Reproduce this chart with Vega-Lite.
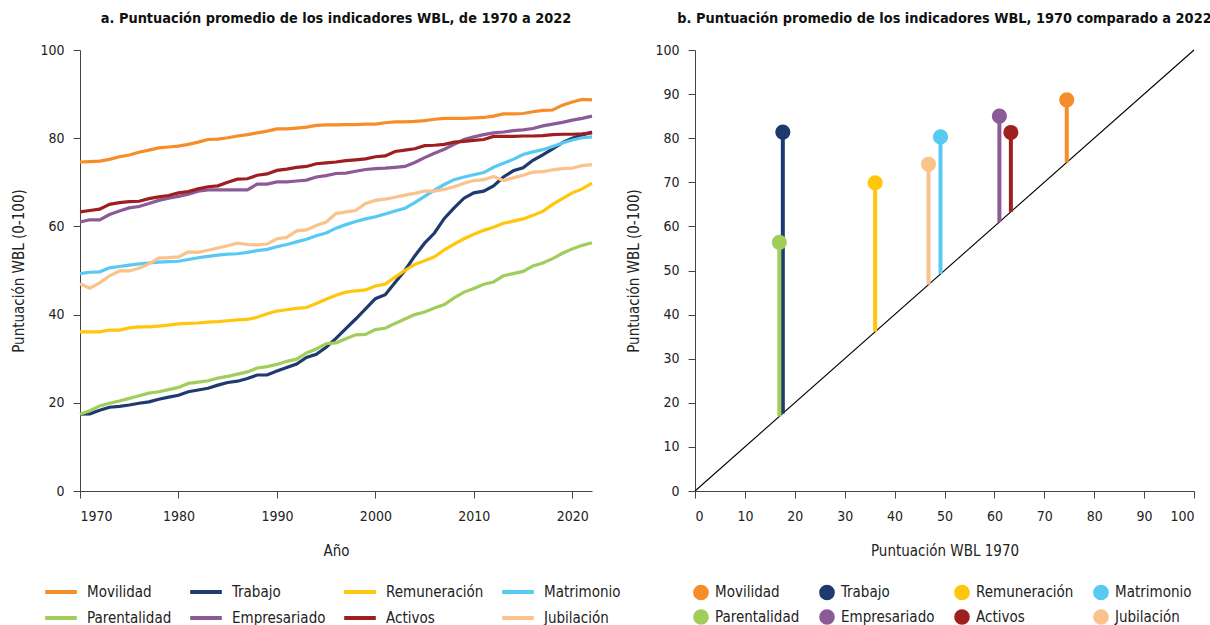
{
  "$schema": "https://vega.github.io/schema/vega-lite/v6.json",
  "background": "white",
  "padding": {"left": 11, "top": 10, "right": 5, "bottom": 0},
  "spacing": 5,
  "config": {
    "font": "DejaVu Sans Condensed, Liberation Sans",
    "view": {"stroke": null},
    "title": {"fontSize": 14.4, "fontWeight": "bold", "color": "#111", "anchor": "middle", "offset": 17},
    "axis": {"grid": false, "labelFontSize": 14, "titleFontSize": 15, "titleFontWeight": "normal", "labelColor": "#222", "titleColor": "#222", "domainColor": "#444", "tickColor": "#444", "tickSize": 7, "labelPadding": 9},
    "axisX": {"labelPadding": 11, "titlePadding": 20},
    "axisY": {"titlePadding": 13},
    "legend": {"labelFontSize": 15, "labelColor": "#222"}
  },
  "resolve": {"scale": {"color": "independent"}, "legend": {"color": "independent"}},
  "datasets": {
    "serie": [
      {"a":1970,"Movilidad":74.6,"Trabajo":17.4,"Remuneración":36.1,"Matrimonio":49.3,"Parentalidad":17.4,"Empresariado":61.0,"Activos":63.3,"Jubilación":47.0},
      {"a":1971,"Movilidad":74.7,"Trabajo":17.5,"Remuneración":36.1,"Matrimonio":49.6,"Parentalidad":18.2,"Empresariado":61.5,"Activos":63.6,"Jubilación":46.0},
      {"a":1972,"Movilidad":74.8,"Trabajo":18.3,"Remuneración":36.1,"Matrimonio":49.7,"Parentalidad":19.3,"Empresariado":61.5,"Activos":63.9,"Jubilación":47.2},
      {"a":1973,"Movilidad":75.2,"Trabajo":19.0,"Remuneración":36.5,"Matrimonio":50.6,"Parentalidad":19.9,"Empresariado":62.7,"Activos":65.0,"Jubilación":48.8},
      {"a":1974,"Movilidad":75.8,"Trabajo":19.2,"Remuneración":36.5,"Matrimonio":50.9,"Parentalidad":20.4,"Empresariado":63.5,"Activos":65.4,"Jubilación":49.9},
      {"a":1975,"Movilidad":76.2,"Trabajo":19.5,"Remuneración":37.0,"Matrimonio":51.2,"Parentalidad":21.0,"Empresariado":64.2,"Activos":65.6,"Jubilación":49.9},
      {"a":1976,"Movilidad":76.8,"Trabajo":19.9,"Remuneración":37.2,"Matrimonio":51.5,"Parentalidad":21.6,"Empresariado":64.5,"Activos":65.7,"Jubilación":50.5},
      {"a":1977,"Movilidad":77.3,"Trabajo":20.2,"Remuneración":37.2,"Matrimonio":51.7,"Parentalidad":22.2,"Empresariado":65.2,"Activos":66.3,"Jubilación":51.5},
      {"a":1978,"Movilidad":77.8,"Trabajo":20.8,"Remuneración":37.4,"Matrimonio":51.9,"Parentalidad":22.5,"Empresariado":65.9,"Activos":66.7,"Jubilación":52.8},
      {"a":1979,"Movilidad":78.0,"Trabajo":21.3,"Remuneración":37.6,"Matrimonio":52.0,"Parentalidad":23.0,"Empresariado":66.4,"Activos":67.0,"Jubilación":52.9},
      {"a":1980,"Movilidad":78.2,"Trabajo":21.7,"Remuneración":37.9,"Matrimonio":52.1,"Parentalidad":23.5,"Empresariado":66.8,"Activos":67.6,"Jubilación":53.1},
      {"a":1981,"Movilidad":78.6,"Trabajo":22.5,"Remuneración":38.0,"Matrimonio":52.5,"Parentalidad":24.4,"Empresariado":67.3,"Activos":67.9,"Jubilación":54.2},
      {"a":1982,"Movilidad":79.1,"Trabajo":22.9,"Remuneración":38.1,"Matrimonio":52.9,"Parentalidad":24.7,"Empresariado":68.0,"Activos":68.5,"Jubilación":54.1},
      {"a":1983,"Movilidad":79.7,"Trabajo":23.3,"Remuneración":38.3,"Matrimonio":53.2,"Parentalidad":25.0,"Empresariado":68.3,"Activos":69.0,"Jubilación":54.6},
      {"a":1984,"Movilidad":79.8,"Trabajo":24.0,"Remuneración":38.4,"Matrimonio":53.5,"Parentalidad":25.6,"Empresariado":68.3,"Activos":69.2,"Jubilación":55.1},
      {"a":1985,"Movilidad":80.1,"Trabajo":24.6,"Remuneración":38.6,"Matrimonio":53.7,"Parentalidad":26.0,"Empresariado":68.3,"Activos":70.0,"Jubilación":55.6},
      {"a":1986,"Movilidad":80.5,"Trabajo":24.9,"Remuneración":38.8,"Matrimonio":53.8,"Parentalidad":26.5,"Empresariado":68.3,"Activos":70.7,"Jubilación":56.2},
      {"a":1987,"Movilidad":80.8,"Trabajo":25.5,"Remuneración":38.9,"Matrimonio":54.1,"Parentalidad":27.0,"Empresariado":68.3,"Activos":70.8,"Jubilación":55.9},
      {"a":1988,"Movilidad":81.2,"Trabajo":26.3,"Remuneración":39.4,"Matrimonio":54.5,"Parentalidad":27.9,"Empresariado":69.6,"Activos":71.6,"Jubilación":55.8},
      {"a":1989,"Movilidad":81.6,"Trabajo":26.3,"Remuneración":40.2,"Matrimonio":54.8,"Parentalidad":28.2,"Empresariado":69.6,"Activos":71.9,"Jubilación":56.0},
      {"a":1990,"Movilidad":82.1,"Trabajo":27.2,"Remuneración":40.8,"Matrimonio":55.4,"Parentalidad":28.7,"Empresariado":70.1,"Activos":72.7,"Jubilación":57.2},
      {"a":1991,"Movilidad":82.1,"Trabajo":28.0,"Remuneración":41.1,"Matrimonio":55.9,"Parentalidad":29.4,"Empresariado":70.1,"Activos":73.0,"Jubilación":57.5},
      {"a":1992,"Movilidad":82.3,"Trabajo":28.8,"Remuneración":41.4,"Matrimonio":56.5,"Parentalidad":29.9,"Empresariado":70.3,"Activos":73.4,"Jubilación":59.0},
      {"a":1993,"Movilidad":82.5,"Trabajo":30.3,"Remuneración":41.6,"Matrimonio":57.1,"Parentalidad":31.3,"Empresariado":70.5,"Activos":73.6,"Jubilación":59.2},
      {"a":1994,"Movilidad":82.9,"Trabajo":31.0,"Remuneración":42.5,"Matrimonio":57.9,"Parentalidad":32.2,"Empresariado":71.2,"Activos":74.2,"Jubilación":60.2},
      {"a":1995,"Movilidad":83.0,"Trabajo":32.6,"Remuneración":43.5,"Matrimonio":58.5,"Parentalidad":33.4,"Empresariado":71.5,"Activos":74.4,"Jubilación":61.0},
      {"a":1996,"Movilidad":83.0,"Trabajo":34.6,"Remuneración":44.4,"Matrimonio":59.6,"Parentalidad":33.6,"Empresariado":72.0,"Activos":74.6,"Jubilación":62.9},
      {"a":1997,"Movilidad":83.1,"Trabajo":36.8,"Remuneración":45.1,"Matrimonio":60.4,"Parentalidad":34.5,"Empresariado":72.1,"Activos":74.9,"Jubilación":63.3},
      {"a":1998,"Movilidad":83.1,"Trabajo":39.0,"Remuneración":45.4,"Matrimonio":61.1,"Parentalidad":35.4,"Empresariado":72.5,"Activos":75.1,"Jubilación":63.6},
      {"a":1999,"Movilidad":83.2,"Trabajo":41.3,"Remuneración":45.6,"Matrimonio":61.7,"Parentalidad":35.5,"Empresariado":72.9,"Activos":75.3,"Jubilación":65.2},
      {"a":2000,"Movilidad":83.2,"Trabajo":43.6,"Remuneración":46.5,"Matrimonio":62.2,"Parentalidad":36.6,"Empresariado":73.1,"Activos":75.8,"Jubilación":65.9},
      {"a":2001,"Movilidad":83.5,"Trabajo":44.5,"Remuneración":46.9,"Matrimonio":62.8,"Parentalidad":36.9,"Empresariado":73.2,"Activos":76.0,"Jubilación":66.2},
      {"a":2002,"Movilidad":83.7,"Trabajo":47.3,"Remuneración":48.5,"Matrimonio":63.5,"Parentalidad":38.0,"Empresariado":73.4,"Activos":77.0,"Jubilación":66.6},
      {"a":2003,"Movilidad":83.7,"Trabajo":50.0,"Remuneración":50.0,"Matrimonio":64.1,"Parentalidad":39.0,"Empresariado":73.6,"Activos":77.3,"Jubilación":67.1},
      {"a":2004,"Movilidad":83.8,"Trabajo":53.3,"Remuneración":51.4,"Matrimonio":65.4,"Parentalidad":40.0,"Empresariado":74.5,"Activos":77.6,"Jubilación":67.5},
      {"a":2005,"Movilidad":84.0,"Trabajo":56.2,"Remuneración":52.2,"Matrimonio":66.8,"Parentalidad":40.6,"Empresariado":75.6,"Activos":78.3,"Jubilación":68.0},
      {"a":2006,"Movilidad":84.3,"Trabajo":58.5,"Remuneración":53.1,"Matrimonio":68.2,"Parentalidad":41.5,"Empresariado":76.6,"Activos":78.4,"Jubilación":68.0},
      {"a":2007,"Movilidad":84.5,"Trabajo":61.8,"Remuneración":54.7,"Matrimonio":69.5,"Parentalidad":42.3,"Empresariado":77.5,"Activos":78.6,"Jubilación":68.4},
      {"a":2008,"Movilidad":84.5,"Trabajo":64.2,"Remuneración":56.0,"Matrimonio":70.6,"Parentalidad":43.8,"Empresariado":78.6,"Activos":79.1,"Jubilación":69.0},
      {"a":2009,"Movilidad":84.5,"Trabajo":66.4,"Remuneración":57.2,"Matrimonio":71.2,"Parentalidad":45.1,"Empresariado":79.7,"Activos":79.3,"Jubilación":69.8},
      {"a":2010,"Movilidad":84.6,"Trabajo":67.6,"Remuneración":58.2,"Matrimonio":71.7,"Parentalidad":45.9,"Empresariado":80.3,"Activos":79.5,"Jubilación":70.4},
      {"a":2011,"Movilidad":84.7,"Trabajo":68.0,"Remuneración":59.1,"Matrimonio":72.2,"Parentalidad":46.9,"Empresariado":80.8,"Activos":79.7,"Jubilación":70.6},
      {"a":2012,"Movilidad":85.0,"Trabajo":69.2,"Remuneración":59.8,"Matrimonio":73.4,"Parentalidad":47.4,"Empresariado":81.2,"Activos":80.4,"Jubilación":71.3},
      {"a":2013,"Movilidad":85.5,"Trabajo":71.2,"Remuneración":60.7,"Matrimonio":74.3,"Parentalidad":48.8,"Empresariado":81.4,"Activos":80.4,"Jubilación":70.4},
      {"a":2014,"Movilidad":85.5,"Trabajo":72.6,"Remuneración":61.2,"Matrimonio":75.2,"Parentalidad":49.3,"Empresariado":81.7,"Activos":80.4,"Jubilación":71.0},
      {"a":2015,"Movilidad":85.6,"Trabajo":73.3,"Remuneración":61.7,"Matrimonio":76.3,"Parentalidad":49.8,"Empresariado":81.9,"Activos":80.5,"Jubilación":71.6},
      {"a":2016,"Movilidad":86.0,"Trabajo":75.0,"Remuneración":62.5,"Matrimonio":76.9,"Parentalidad":51.0,"Empresariado":82.2,"Activos":80.5,"Jubilación":72.3},
      {"a":2017,"Movilidad":86.3,"Trabajo":76.2,"Remuneración":63.4,"Matrimonio":77.4,"Parentalidad":51.7,"Empresariado":82.8,"Activos":80.6,"Jubilación":72.4},
      {"a":2018,"Movilidad":86.4,"Trabajo":77.6,"Remuneración":65.0,"Matrimonio":78.1,"Parentalidad":52.7,"Empresariado":83.2,"Activos":80.8,"Jubilación":72.8},
      {"a":2019,"Movilidad":87.5,"Trabajo":79.0,"Remuneración":66.3,"Matrimonio":78.9,"Parentalidad":53.9,"Empresariado":83.6,"Activos":80.9,"Jubilación":73.1},
      {"a":2020,"Movilidad":88.2,"Trabajo":80.0,"Remuneración":67.6,"Matrimonio":79.6,"Parentalidad":54.9,"Empresariado":84.1,"Activos":80.9,"Jubilación":73.2},
      {"a":2021,"Movilidad":88.8,"Trabajo":80.7,"Remuneración":68.5,"Matrimonio":80.1,"Parentalidad":55.7,"Empresariado":84.5,"Activos":81.0,"Jubilación":73.8},
      {"a":2022,"Movilidad":88.7,"Trabajo":81.4,"Remuneración":69.8,"Matrimonio":80.3,"Parentalidad":56.3,"Empresariado":85.0,"Activos":81.2,"Jubilación":74.0}
    ],
    "lol": [
      {"indicador":"Movilidad","v1970":74.5,"v2022":88.7},
      {"indicador":"Trabajo","v1970":17.6,"v2022":81.4},
      {"indicador":"Remuneración","v1970":36.1,"v2022":69.9},
      {"indicador":"Jubilación","v1970":46.8,"v2022":74.1},
      {"indicador":"Matrimonio","v1970":49.2,"v2022":80.3},
      {"indicador":"Parentalidad","v1970":16.9,"v2022":56.4},
      {"indicador":"Empresariado","v1970":61.0,"v2022":85.0},
      {"indicador":"Activos","v1970":63.3,"v2022":81.3}
    ],
    "diag": [{"x":0,"y":0,"x2":100,"y2":100}]
  },
  "hconcat": [
    {
      "width": 512,
      "height": 441,
      "title": "a. Puntuación promedio de los indicadores WBL, de 1970 a 2022",
      "data": {"name": "serie"},
      "transform": [{"fold": ["Movilidad","Trabajo","Remuneración","Matrimonio","Parentalidad","Empresariado","Activos","Jubilación"], "as": ["indicador","valor"]}],
      "mark": {"type": "line", "strokeWidth": 3.2},
      "encoding": {
        "x": {"field": "a", "type": "quantitative", "scale": {"domain": [1970, 2022], "nice": false, "zero": false}, "axis": {"values": [1970,1980,1990,2000,2010,2020], "format": "d", "title": "Año"}},
        "y": {"field": "valor", "type": "quantitative", "scale": {"domain": [0, 100], "nice": false}, "axis": {"values": [0,20,40,60,80,100], "title": "Puntuación WBL (0-100)"}},
        "color": {
          "field": "indicador", "type": "nominal",
          "scale": {"domain": ["Movilidad","Trabajo","Remuneración","Matrimonio","Parentalidad","Empresariado","Activos","Jubilación"], "range": ["#F78D28","#1F3A6E","#FFC60B","#57C9F3","#A1CD5A","#8C5A96","#9E1F20","#FAC28D"]},
          "legend": {"title": null, "orient": "none", "legendX": -37, "legendY": 524, "direction": "horizontal", "columns": 4, "symbolType": "stroke", "symbolSize": 1000, "symbolStrokeWidth": 4, "gridAlign": "each", "columnPadding": 10, "rowPadding": -7, "labelOffset": 8}
        }
      }
    },
    {
      "width": 499,
      "height": 441,
      "title": "b. Puntuación promedio de los indicadores WBL, 1970 comparado a 2022",
      "layer": [
        {
          "data": {"name": "diag"},
          "mark": {"type": "rule", "color": "black", "strokeWidth": 1.1},
          "encoding": {
            "x": {"field": "x", "type": "quantitative", "scale": {"domain": [0, 100], "nice": false}, "axis": {"values": [0,10,20,30,40,50,60,70,80,90,100], "title": "Puntuación WBL 1970"}},
            "y": {"field": "y", "type": "quantitative", "scale": {"domain": [0, 100], "nice": false}, "axis": {"values": [0,10,20,30,40,50,60,70,80,90,100], "title": "Puntuación WBL (0-100)"}},
            "x2": {"field": "x2"},
            "y2": {"field": "y2"}
          }
        },
        {
          "data": {"name": "lol"},
          "mark": {"type": "rule", "strokeWidth": 4},
          "encoding": {
            "x": {"field": "v1970", "type": "quantitative", "axis": {"values": [0,10,20,30,40,50,60,70,80,90,100], "title": "Puntuación WBL 1970"}},
            "y": {"field": "v1970", "type": "quantitative", "axis": {"values": [0,10,20,30,40,50,60,70,80,90,100], "title": "Puntuación WBL (0-100)"}},
            "y2": {"field": "v2022"},
            "color": {"field": "indicador", "type": "nominal", "scale": {"domain": ["Movilidad","Trabajo","Remuneración","Matrimonio","Parentalidad","Empresariado","Activos","Jubilación"], "range": ["#F78D28","#1F3A6E","#FFC60B","#57C9F3","#A1CD5A","#8C5A96","#9E1F20","#FAC28D"]},
              "legend": {"title": null, "orient": "none", "legendX": -2, "legendY": 534, "direction": "horizontal", "columns": 4, "symbolType": "circle", "symbolSize": 200, "gridAlign": "each", "columnPadding": 16, "rowPadding": 3, "labelOffset": 6}}
          }
        },
        {
          "data": {"name": "lol"},
          "mark": {"type": "circle", "size": 230, "opacity": 1},
          "encoding": {
            "x": {"field": "v1970", "type": "quantitative", "axis": {"values": [0,10,20,30,40,50,60,70,80,90,100], "title": "Puntuación WBL 1970"}},
            "y": {"field": "v2022", "type": "quantitative", "axis": {"values": [0,10,20,30,40,50,60,70,80,90,100], "title": "Puntuación WBL (0-100)"}},
            "color": {"field": "indicador", "type": "nominal", "scale": {"domain": ["Movilidad","Trabajo","Remuneración","Matrimonio","Parentalidad","Empresariado","Activos","Jubilación"], "range": ["#F78D28","#1F3A6E","#FFC60B","#57C9F3","#A1CD5A","#8C5A96","#9E1F20","#FAC28D"]},
              "legend": {"title": null, "orient": "none", "legendX": -2, "legendY": 534, "direction": "horizontal", "columns": 4, "symbolType": "circle", "symbolSize": 200, "gridAlign": "each", "columnPadding": 16, "rowPadding": 3, "labelOffset": 6}}
          }
        }
      ]
    }
  ]
}
